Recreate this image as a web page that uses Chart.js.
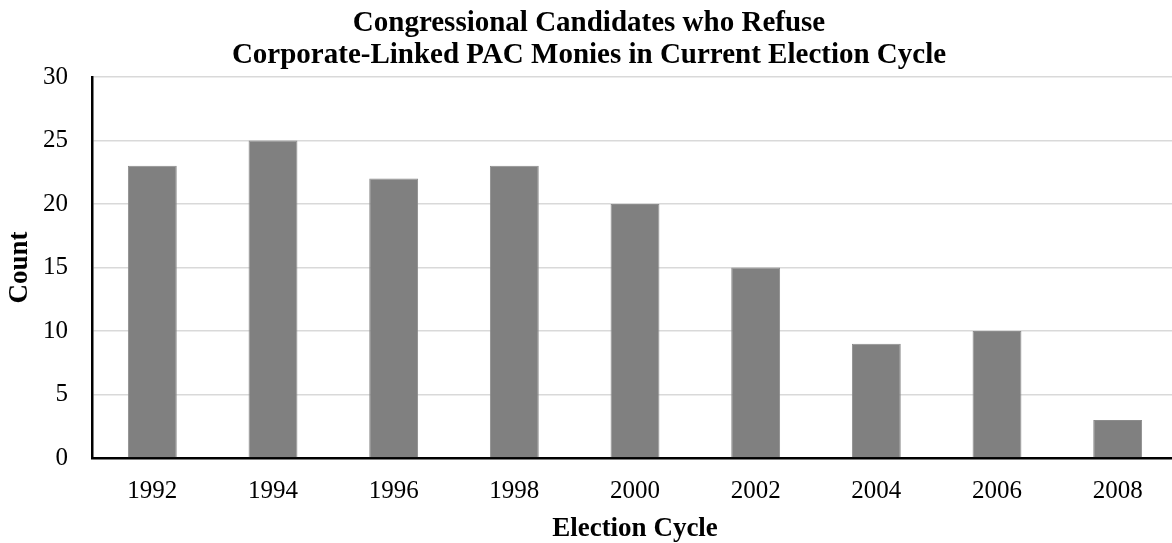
<!DOCTYPE html>
<html>
<head>
<meta charset="utf-8">
<script src="https://cdn.jsdelivr.net/npm/chart.js@4/dist/chart.umd.min.js"></script>
<style>
  html, body { margin: 0; padding: 0; background: #fff; overflow: hidden; }
  #wrap { width: 1178px; height: 543px; }
</style>
</head>
<body>
<div id="wrap"><canvas id="c"></canvas></div>
<script>
const cycles = ['1992', '1994', '1996', '1998', '2000', '2002', '2004', '2006', '2008'];
const counts = [23, 25, 22, 23, 20, 15, 9, 10, 3];
const titleLines = ['Congressional Candidates who Refuse', 'Corporate-Linked PAC Monies in Current Election Cycle'];

const serif = '"Liberation Serif", "Times New Roman", serif';

new Chart(document.getElementById('c'), {
  type: 'bar',
  data: {
    labels: cycles,
    datasets: [{
      data: counts,
      backgroundColor: '#808080',
      borderColor: '#8c8c8c',
      borderWidth: 1,
      categoryPercentage: 1,
      barPercentage: 0.405
    }]
  },
  options: {
    responsive: true,
    maintainAspectRatio: false,
    animation: false,
    layout: { padding: 0 },
    plugins: {
      legend: { display: false },
      tooltip: { enabled: false },
      title: {
        display: true,
        text: titleLines,
        color: '#000',
        font: { family: serif, size: 29, weight: 'bold', lineHeight: 1.12 },
        padding: { top: 7, bottom: 5 }
      }
    },
    scales: {
      x: {
        grid: { display: false, drawTicks: false },
        border: { display: true, color: '#000', width: 2.5 },
        ticks: { color: '#000', font: { family: serif, size: 25 }, padding: 18 },
        title: {
          display: true,
          text: 'Election Cycle',
          color: '#000',
          font: { family: serif, size: 27, weight: 'bold', lineHeight: 1.0 },
          padding: { top: 0, bottom: 0 }
        },
        afterFit: s => { s.height = 85; }
      },
      y: {
        min: 0,
        max: 30,
        ticks: { stepSize: 5, color: '#000', font: { family: serif, size: 25 }, padding: 24 },
        grid: { color: '#d9d9d9', lineWidth: 1.5, drawTicks: false },
        border: { display: true, color: '#000', width: 2.5 },
        title: {
          display: true,
          text: 'Count',
          color: '#000',
          font: { family: serif, size: 27, weight: 'bold', lineHeight: 1.2 },
          padding: { top: 4, bottom: 0 }
        },
        afterFit: s => { s.width = 92; }
      }
    }
  }
});
</script>
</body>
</html>
